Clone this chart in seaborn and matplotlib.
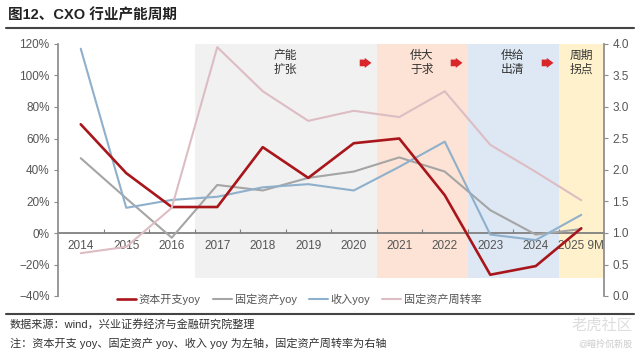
import matplotlib
matplotlib.use("Agg")
import matplotlib.pyplot as plt
from matplotlib.ticker import FuncFormatter, FixedLocator
import seaborn as sns
import pandas as pd

sns.set_theme(style="white")
plt.rcParams['font.family'] = ['Liberation Sans', 'Noto Sans CJK SC', 'DejaVu Sans']
plt.rcParams['axes.unicode_minus'] = True

# ---------------- data ----------------
categories = ["2014", "2015", "2016", "2017", "2018", "2019", "2020",
              "2021", "2022", "2023", "2024", "2025 9M"]
capex_yoy = [69, 38, 16.5, 16.5, 54.5, 35, 57, 60, 24, -26.5, -21, 3]
fixed_asset_yoy = [47.5, 22, -3, 30.5, 27, 35, 39, 48, 39, 14.5, -1, 2.5]
revenue_yoy = [117, 16, 21, 23, 29, 31, 27, 42, 58, -1, -4.5, 11.5]
asset_turnover = [0.68, 0.78, 1.40, 3.95, 3.25, 2.78, 2.94, 2.84, 3.25, 2.40, 1.97, 1.52]

series_names = ["资本开支yoy", "固定资产yoy", "收入yoy", "固定资产周转率"]
phase_labels = ["产能\n扩张", "供大\n于求", "供给\n出清", "周期\n拐点"]
phase_start = ["2017", "2021", "2023", "2025 9M"]
phase_end = ["2020", "2022", "2024", "2025 9M"]

title = "图12、CXO 行业产能周期"
source_note = "数据来源：wind，兴业证券经济与金融研究院整理"
axis_note = "注：资本开支 yoy、固定资产 yoy、收入 yoy 为左轴，固定资产周转率为右轴"

# ---------------- style ----------------
c_red = "#A8161C"
c_gray = "#A5A5A5"
c_blue = "#8FB0CC"
c_pink = "#DDBDC3"
band_colors = ["#F1F1F1", "#FCE3D5", "#DDE8F4", "#FFF1CC"]
txt_col = "#555555"

fig = plt.figure(figsize=(6.4, 3.6), dpi=100)
ax = fig.add_axes([58/640, 1-296/360, (604-58)/640, (296-44)/360])
ax2 = ax.twinx()

df = pd.DataFrame({"cat": categories, "capex": capex_yoy, "fa": fixed_asset_yoy,
                   "rev": revenue_yoy, "turn": asset_turnover})

# phase bands
band_bottom, band_top = -28.5, 120
for lab, s, e, col in zip(phase_labels, phase_start, phase_end, band_colors):
    i0 = categories.index(s)
    i1 = categories.index(e)
    ax.bar((i0 + i1) / 2, band_top - band_bottom, width=i1 - i0 + 1,
           bottom=band_bottom, color=col, edgecolor="none", zorder=0)

sns.lineplot(data=df, x="cat", y="capex", ax=ax, color=c_red, lw=1.9,
             label=series_names[0], zorder=4, sort=False)
sns.lineplot(data=df, x="cat", y="fa", ax=ax, color=c_gray, lw=1.5,
             label=series_names[1], zorder=3, sort=False)
sns.lineplot(data=df, x="cat", y="rev", ax=ax, color=c_blue, lw=1.5,
             label=series_names[2], zorder=3, sort=False)
sns.lineplot(data=df, x="cat", y="turn", ax=ax2, color=c_pink, lw=1.5,
             label=series_names[3], zorder=2, sort=False)

ax.set_xlim(-0.5, len(categories) - 0.5)
ax.set_ylim(-40, 120)
ax2.set_ylim(0, 4.0)
ax.set_xlabel("")
ax.set_ylabel("")
ax2.set_ylabel("")

# legend
h1, l1 = ax.get_legend_handles_labels()
h2, l2 = ax2.get_legend_handles_labels()
ax.get_legend().remove()
ax2.get_legend().remove()
fig.legend(h1 + h2, l1 + l2, loc="center", bbox_to_anchor=(0.468, 1-299/360),
           ncol=4, frameon=False, fontsize=8, handlelength=1.7,
           columnspacing=1.1, handletextpad=0.25, labelcolor=txt_col)

# axes styling
ax.yaxis.set_major_locator(FixedLocator(list(range(-40, 121, 20))))
ax.yaxis.set_major_formatter(FuncFormatter(lambda v, p: f"{v:.0f}%".replace("-", "\u2212")))
ax2.yaxis.set_major_locator(FixedLocator([0, 0.5, 1, 1.5, 2, 2.5, 3, 3.5, 4]))
ax2.yaxis.set_major_formatter(FuncFormatter(lambda v, p: f"{v:.1f}"))

for a in (ax, ax2):
    a.spines["top"].set_visible(False)
ax.spines["right"].set_visible(False)
ax2.spines["left"].set_visible(False)
ax2.spines["bottom"].set_visible(False)
ax.spines["left"].set_color("#8C8C8C")
ax2.spines["right"].set_color("#8C8C8C")
ax.spines["bottom"].set_position(("data", 0))
ax.spines["bottom"].set_color("#808080")
ax.spines["bottom"].set_linewidth(1.3)
ax.spines["bottom"].set_zorder(1)

ax.tick_params(axis="y", which="major", direction="out", length=3, width=0.8,
               colors="#8C8C8C", labelcolor=txt_col, labelsize=8.5, pad=3, left=True)
ax2.tick_params(axis="y", which="major", direction="out", length=3, width=0.8,
                colors="#8C8C8C", labelcolor=txt_col, labelsize=8.5, pad=3, right=True)
ax.tick_params(axis="x", which="major", length=0, labelcolor=txt_col, labelsize=8.5, pad=5)
ax.set_xticks(range(len(categories)))
ax.set_xticklabels(categories)
ax.set_xticks([i + 0.5 for i in range(len(categories) - 1)], minor=True)
ax.tick_params(axis="x", which="minor", direction="in", length=3, width=0.8,
               color="#808080", bottom=True)
ax.grid(False)
ax2.grid(False)

# phase annotations
for lab, s, e in zip(phase_labels, phase_start, phase_end):
    i0 = categories.index(s)
    i1 = categories.index(e)
    ax.text((i0 + i1) / 2, 108, lab, ha="center", va="center", fontsize=8.5,
            color="#333333", linespacing=1.15, zorder=5)
arrow_after = phase_end[:3]
for e in arrow_after:
    xi = categories.index(e) + 0.25
    ax.annotate("", xy=(xi + 0.2, 108), xytext=(xi - 0.18, 108),
                arrowprops=dict(arrowstyle="simple,head_length=0.4,head_width=0.6,tail_width=0.4",
                                color="#D9262B", lw=0), zorder=5)

# title & notes
fig.text(8/640, 1-15/360, title, fontsize=10.5, fontweight="bold", color="#222222",
         ha="left", va="center")
fig.add_artist(plt.Line2D([6/640, 634/640], [1-28/360, 1-28/360], color="#444444", lw=1.5))
fig.add_artist(plt.Line2D([6/640, 634/640], [1-314/360, 1-314/360], color="#444444", lw=1.5))
fig.text(10/640, 1-324/360, source_note, fontsize=8, color="#333333", ha="left", va="center")
fig.text(10/640, 1-343/360, axis_note, fontsize=8, color="#333333", ha="left", va="center")
fig.text(632/640, 1-326/360, "老虎社区", fontsize=11, color="#DDDDDD", ha="right", va="center")
fig.text(632/640, 1-344/360, "@暗拎侃新股", fontsize=6.5, color="#CCCCCC", ha="right", va="center")

fig.savefig("out.png", dpi=100)
